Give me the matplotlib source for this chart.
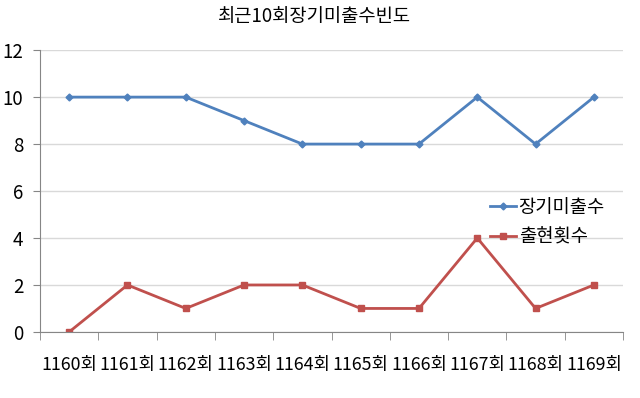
import matplotlib

matplotlib.use("Agg")
import matplotlib.pyplot as plt

plt.rcParams["font.family"] = ["Noto Sans CJK KR", "DejaVu Sans"]

rounds = ["1160회", "1161회", "1162회", "1163회", "1164회",
          "1165회", "1166회", "1167회", "1168회", "1169회"]
long_missing = [10, 10, 10, 9, 8, 8, 8, 10, 8, 10]
appearances = [0, 2, 1, 2, 2, 1, 1, 4, 1, 2]

BLUE = "#4F81BD"
RED = "#C0504D"

fig = plt.figure(figsize=(6.4, 3.98), dpi=100)
ax = fig.add_axes([0.0625, 0.166, 0.911, 0.708])

x = list(range(len(rounds)))
ax.plot(x, long_missing, color=BLUE, lw=2, marker="D", ms=3.5, label="장기미출수")
ax.plot(x, appearances, color=RED, lw=2, marker="s", ms=5, label="출현횟수")

ax.set_xlim(-0.5, len(rounds) - 0.5)
ax.set_ylim(0, 12)
ax.set_yticks(range(0, 13, 2))
ax.set_xticks(x)
ax.set_xticklabels(rounds)
ax.set_xticks([i - 0.5 for i in range(len(rounds) + 1)], minor=True)

ax.grid(axis="y", color="#D9D9D9", lw=1)
ax.set_axisbelow(True)
for side in ("top", "right"):
    ax.spines[side].set_visible(False)
for side in ("left", "bottom"):
    ax.spines[side].set_color("#868686")

ax.tick_params(axis="x", which="major", length=0, pad=17, labelsize=12.8)
ax.tick_params(axis="x", which="minor", length=6, color="#868686")
ax.tick_params(axis="y", length=5, color="#868686", labelsize=13.5, pad=7)

# title is centred on the figure rather than the plot area
fig.text(0.492, 0.958, "최근10회장기미출수빈도", fontsize=13.5,
         ha="center", va="center")

ax.legend(loc="center left", bbox_to_anchor=(0.755, 0.39), frameon=False,
          fontsize=13.5, handlelength=1.4, handletextpad=0.15,
          labelspacing=0.45, borderpad=0)

fig.savefig("out.png", dpi=100, facecolor="white")
